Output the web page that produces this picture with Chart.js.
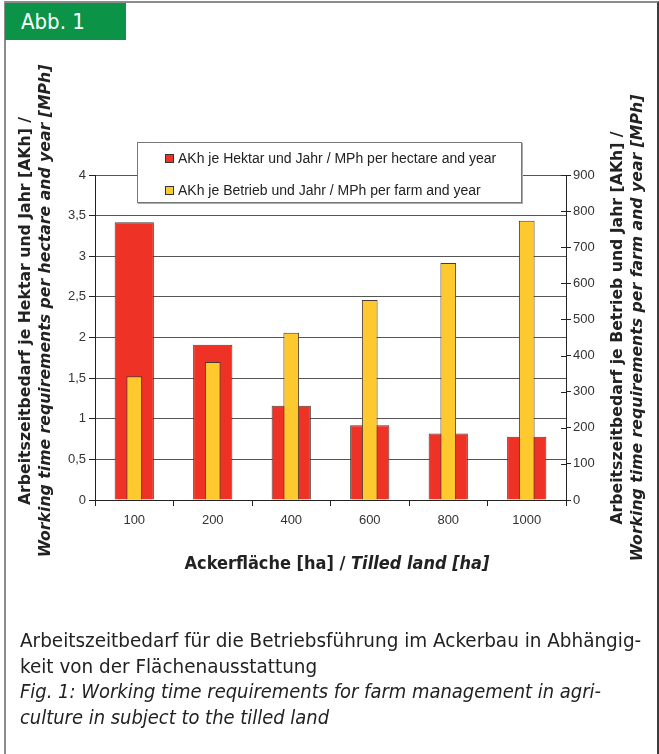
<!DOCTYPE html>
<html>
<head>
<meta charset="utf-8">
<script src="https://cdn.jsdelivr.net/npm/chart.js@4.4.1/dist/chart.umd.min.js"></script>
<style>
body { margin: 0; background: #fff; }
#wrap { position: relative; width: 659px; height: 754px; overflow: hidden; font-family: "Liberation Sans", Arial, sans-serif; color: #222; }
#frame { position: absolute; left: 4px; top: 1px; width: 651px; height: 780px; border: 2px solid #8c8c8c; border-right-color: #3c3c3c; }
#abb { position: absolute; left: 5px; top: 3px; width: 121px; height: 37px; background: #0b9347; color: #fff;
       font-family: "DejaVu Sans Condensed", sans-serif; font-size: 22px; line-height: 37px; padding-left: 16px; box-sizing: border-box; }
canvas { position: absolute; left: 0; top: 0; }
.ytitle { position: absolute; width: 560px; text-align: center; transform-origin: 0 0; transform: rotate(-90deg); white-space: nowrap; font-weight: bold;
          font-family: "DejaVu Sans", sans-serif; font-size: 15.7px; line-height: 19.5px; color: #222; }
.ytitle i { font-style: italic; }
#legend { position: absolute; left: 137px; top: 142px; width: 385px; height: 61px; box-sizing: border-box; background: #fff;
          border: 1px solid #777; box-shadow: 1px 1px 0 #aaa; font-size: 14px; color: #222; }
#legend div { position: absolute; left: 27px; height: 16px; line-height: 16px; white-space: nowrap; }
#legend span { display: inline-block; width: 7px; height: 7px; border: 1px solid #333; margin-right: 4px; vertical-align: 0px; }
#xtitle { position: absolute; left: 0; width: 674px; top: 552px; text-align: center; font-weight: bold; font-size: 18px;
          font-family: "DejaVu Sans Condensed", sans-serif; color: #222; }
.cap { position: absolute; left: 20px; width: 600px; font-size: 19px; line-height: 25.5px; color: #222; white-space: nowrap;
       font-family: "DejaVu Sans Condensed", sans-serif; transform-origin: 0 0; }
</style>
</head>
<body>
<div id="wrap">
  <div id="frame"></div>
  <div id="abb">Abb. 1</div>
  <canvas id="chart" width="659" height="754"></canvas>
  <div class="ytitle" style="left:15px;top:591px">Arbeitszeitbedarf je Hektar und Jahr [AKh] /<br><i>Working time requirements per hectare and year [MPh]</i></div>
  <div class="ytitle" style="left:607px;top:608px">Arbeitszeitbedarf je Betrieb und Jahr [AKh] /<br><i>Working time requirements per farm and year [MPh]</i></div>
  <div id="legend"></div>
  <div id="xtitle">Ackerfläche [ha] / <i>Tilled land [ha]</i></div>
  <div class="cap" style="top:628px;transform:scaleX(1.076)">Arbeitszeitbedarf für die Betriebsführung im Ackerbau in Abhängig-<br>keit von der Flächenausstattung</div>
  <div class="cap" style="top:679px;transform:scaleX(1.049)"><i>Fig. 1: Working time requirements for farm management in agri-<br>culture in subject to the tilled land</i></div>
</div>
<script>
// data
const categories = ['100', '200', '400', '600', '800', '1000'];
const perHectare = [3.42, 1.91, 1.16, 0.92, 0.82, 0.78];   // AKh / ha and year (left axis)
const perFarm = [343, 382, 463, 554, 656, 773];             // AKh / farm and year (right axis)
const leftTicks = [0, 0.5, 1, 1.5, 2, 2.5, 3, 3.5, 4];
const rightTicks = [0, 100, 200, 300, 400, 500, 600, 700, 800, 900];
const seriesNames = ['AKh je Hektar und Jahr / MPh per hectare and year', 'AKh je Betrieb und Jahr / MPh per farm and year'];
const seriesColors = ['#ee3226', '#fec92e'];

// legend box (html, over the plot)
const legend = document.getElementById('legend');
seriesNames.forEach((name, i) => {
    const row = document.createElement('div');
    row.style.top = (i === 0 ? 7 : 39) + 'px';
    row.innerHTML = '<span style="background:' + seriesColors[i] + '"></span>' + name;
    legend.appendChild(row);
});

const comma = v => String(v).replace('.', ',');

// small tick marks inside the right axis
const innerTicks = {
    id: 'innerTicks',
    afterDraw(chart) {
        const s = chart.scales.y1;
        const ctx = chart.ctx;
        ctx.save();
        ctx.strokeStyle = '#222';
        ctx.lineWidth = 1;
        s.ticks.forEach(t => {
            const y = Math.round(s.getPixelForValue(t.value)) + 0.5;
            ctx.beginPath();
            ctx.moveTo(s.left - 5, y);
            ctx.lineTo(s.left, y);
            ctx.stroke();
        });
        ctx.restore();
    }
};

const ctx = document.getElementById('chart').getContext('2d');
const chart = new Chart(ctx, {
    type: 'bar',
    data: {
        labels: categories,
        datasets: [{
            label: seriesNames[0],
            data: perHectare,
            yAxisID: 'y',
            backgroundColor: seriesColors[0],
            borderColor: '#4a3c34',
            borderWidth: 1,
            grouped: false,
            categoryPercentage: 1,
            barPercentage: 0.5,
            order: 2
        }, {
            label: seriesNames[1],
            data: perFarm,
            yAxisID: 'y1',
            backgroundColor: seriesColors[1],
            borderColor: '#4a3c34',
            borderWidth: 1,
            grouped: false,
            categoryPercentage: 1,
            barPercentage: 0.2,
            order: 1
        }]
    },
    options: {
        responsive: false,
        animation: false,
        layout: { padding: { left: 55, right: 53, top: 175, bottom: 224 } },
        plugins: {
            legend: { display: false },
            tooltip: { enabled: false }
        },
        scales: {
            x: {
                offset: true,
                grid: { offset: true, drawOnChartArea: false, tickLength: 6, color: '#222' },
                border: { color: '#222' },
                ticks: { color: '#333', font: { family: 'Liberation Sans', size: 13 }, padding: 7 },
                afterFit: s => { s.height = 30; }
            },
            y: {
                position: 'left',
                min: 0,
                max: 4,
                afterBuildTicks: s => { s.ticks = leftTicks.map(v => ({ value: v })); },
                grid: { color: '#555', tickColor: '#222', tickLength: 6 },
                border: { color: '#222' },
                ticks: { color: '#333', font: { family: 'Liberation Sans', size: 13 }, padding: 3, callback: comma },
                afterFit: s => { s.width = 40; }
            },
            y1: {
                position: 'right',
                min: 0,
                max: 900,
                afterBuildTicks: s => { s.ticks = rightTicks.map(v => ({ value: v })); },
                grid: { drawOnChartArea: false, color: '#222', tickLength: 5 },
                border: { color: '#222' },
                ticks: { color: '#333', font: { family: 'Liberation Sans', size: 13 }, padding: 2 },
                afterFit: s => { s.width = 40; }
            }
        }
    },
    plugins: [innerTicks]
});
</script>
</body>
</html>
